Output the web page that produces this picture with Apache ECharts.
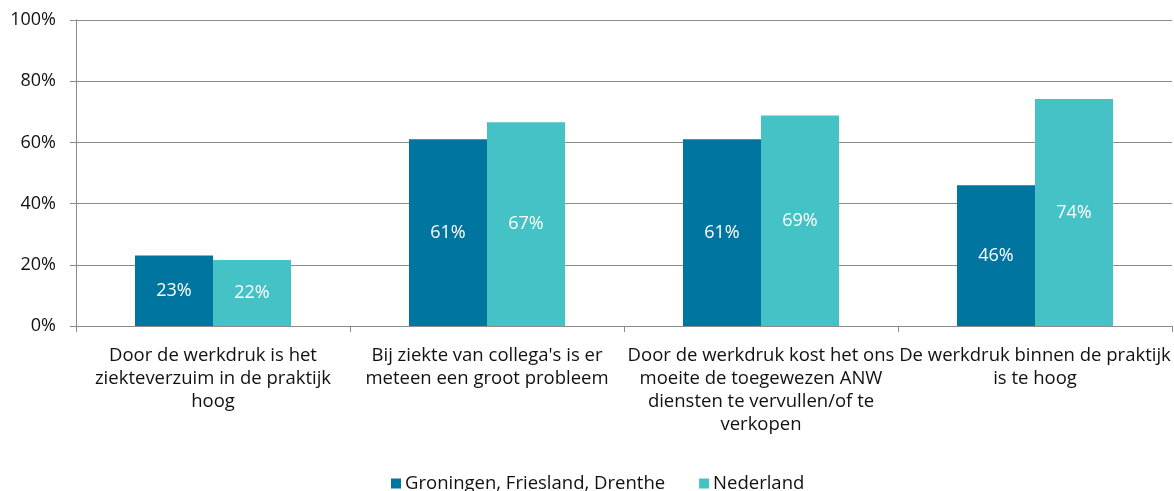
<!DOCTYPE html>
<html><head><meta charset="utf-8">
<script src="https://cdn.jsdelivr.net/npm/echarts@6/dist/echarts.min.js"></script>
<style>html,body{margin:0;padding:0;background:#fff}#c{width:1174px;height:491px}</style>
</head><body><div id="c"></div>
<script>
const categories = [
  "Door de werkdruk is het\nziekteverzuim in de praktijk\nhoog",
  "Bij ziekte van collega's is er\nmeteen een groot probleem",
  "Door de werkdruk kost het ons\nmoeite de toegewezen ANW\ndiensten te vervullen/of te\nverkopen",
  "De werkdruk binnen de praktijk\nis te hoog"
];
const seriesNames = ["Groningen, Friesland, Drenthe", "Nederland"];
const gfdValues = [23, 61, 61, 46];
const nlValues = [21.6, 66.6, 68.8, 74.2];
const yTicks = [0, 20, 40, 60, 80, 100];
const colors = ["#0075a0", "#44c2c6"];
const font = "'Open Sans', sans-serif";
const fs = 18.5;

const chart = echarts.init(document.getElementById('c'), null, {renderer: 'canvas'});
const labelCfg = {show: true, position: 'inside', color: '#fff', fontSize: 18, fontFamily: font,
  formatter: p => Math.round(p.value) + '%'};
chart.setOption({
  animation: false,
  textStyle: {fontFamily: font},
  grid: {left: 76, right: 2, top: 20, bottom: 165, containLabel: false},
  legend: {top: 469, left: 386, itemWidth: 10, itemHeight: 10, itemGap: 34, icon: 'rect',
    textStyle: {fontSize: fs, color: '#111', fontFamily: font, padding: [0, 0, 0, -1]},
    data: seriesNames},
  xAxis: {type: 'category', data: categories,
    axisLine: {lineStyle: {color: '#8c8c8c', width: 1}},
    axisTick: {show: true, length: 6, lineStyle: {color: '#8c8c8c'}},
    axisLabel: {fontSize: fs, color: '#111', lineHeight: 23, margin: 18, interval: 0, fontFamily: font}},
  yAxis: {type: 'value', min: yTicks[0], max: yTicks[yTicks.length-1], interval: 20,
    axisLine: {show: true, lineStyle: {color: '#8c8c8c'}},
    axisTick: {show: true, length: 6, lineStyle: {color: '#8c8c8c'}},
    splitLine: {lineStyle: {color: '#8c8c8c', width: 1}},
    axisLabel: {fontSize: 18, color: '#111', margin: 20, formatter: v => v + '%', fontFamily: font}},
  series: [
    {name: seriesNames[0], type: 'bar', data: gfdValues, barWidth: 78, barGap: '0%',
      itemStyle: {color: colors[0]}, label: labelCfg},
    {name: seriesNames[1], type: 'bar', data: nlValues, barWidth: 78,
      itemStyle: {color: colors[1]}, label: labelCfg}
  ]
});
</script></body></html>
